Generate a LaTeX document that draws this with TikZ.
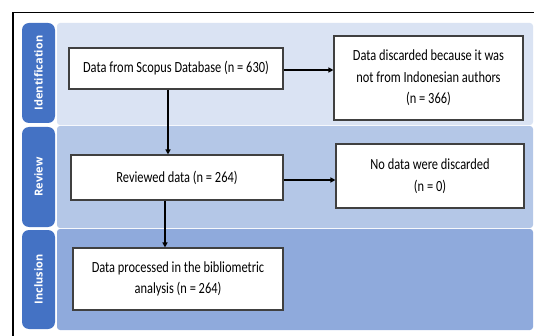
\documentclass[tikz,border=0pt]{standalone}
\usepackage{fontspec}
\setmainfont{Carlito}[FakeStretch=0.8]
\newfontfamily\tabfont{Open Sans}
\usetikzlibrary{arrows.meta}
\definecolor{tabblue}{HTML}{4472C4}
\definecolor{bandA}{HTML}{DAE3F3}
\definecolor{bandB}{HTML}{B4C7E7}
\definecolor{bandC}{HTML}{8FAADC}
\definecolor{boxline}{HTML}{404040}
\tikzset{
  tab/.style={fill=tabblue, rounded corners=7pt},
  tablabel/.style={text=white, font=\tabfont\bfseries\fontsize{11}{12}\selectfont, rotate=90},
  band/.style={rounded corners=3pt},
  stepbox/.style={draw=boxline, line width=1.1pt, fill=white, align=center,
    font=\fontsize{15.5}{21.5}\selectfont, inner sep=0pt},
  flow/.style={draw=black, line width=1.5pt, -{Triangle[length=5pt,width=5pt]}}
}
\begin{document}
\begin{tikzpicture}[x=1pt,y=-1pt]
\useasboundingbox (0,0) rectangle (534,336);
% outer frame (open at right and bottom)
\draw[line width=1.4pt] (534,12.5) -- (13,12.5) -- (13,336);
% stage bands
\fill[band, bandA] (57,23) rectangle (533,125);
\fill[band, bandB] (57,126) rectangle (533,228);
\fill[band, bandC] (57,229) rectangle (533,330);
% stage tabs
\fill[tab] (22,23) rectangle (55,123);
\fill[tab] (22,127) rectangle (55,227);
\fill[tab] (22,230) rectangle (55,329);
\node[tablabel] (tid) at (38.5,73) {Identification};
\node[tablabel] (trv) at (38.5,177) {Review};
\node[tablabel] (tin) at (38.5,279.5) {Inclusion};
% process boxes
\node[stepbox, minimum width=214pt, minimum height=41pt] (src) at (176,68.5)
  {Data from Scopus Database (n = 630)};
\node[stepbox, minimum width=189pt, minimum height=84pt] (disc) at (428.5,78)
  {Data discarded because it was\\not from Indonesian authors\\(n = 366)};
\node[stepbox, minimum width=212pt, minimum height=45pt] (rev) at (177,177.5)
  {Reviewed data (n = 264)};
\node[stepbox, minimum width=188pt, minimum height=64pt] (none) at (430,176)
  {No data were discarded\\(n = 0)};
\node[stepbox, minimum width=210pt, minimum height=62pt] (inc) at (178,279)
  {Data processed in the bibliometric\\analysis (n = 264)};
% connectors
\draw[flow] (src.east |- 0,70) -- (disc.west |- 0,70);
\draw[flow] (src.south -| 168,0) -- (rev.north -| 168,0);
\draw[flow] (rev.east |- 0,180) -- (none.west |- 0,180);
\draw[flow] (rev.south -| 165,0) -- (inc.north -| 165,0);
\end{tikzpicture}
\end{document}
